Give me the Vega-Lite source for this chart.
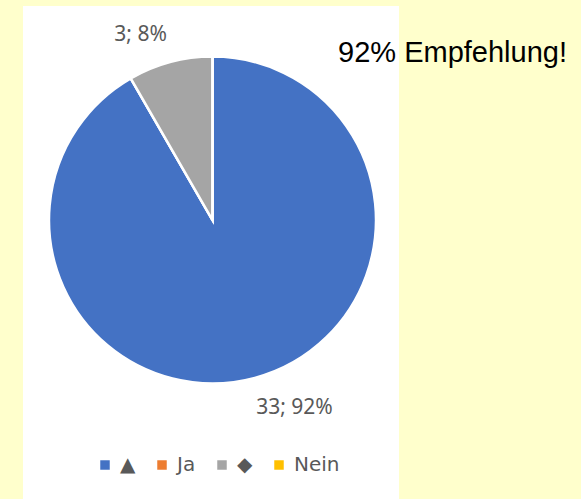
{
  "$schema": "https://vega.github.io/schema/vega-lite/v6.json",
  "width": 376,
  "height": 493,
  "autosize": {"type": "none"},
  "padding": {"left": 23, "top": 6, "right": 182, "bottom": 0},
  "background": "#FFFFCC",
  "view": {"fill": "white", "stroke": null},
  "title": {
    "text": "92% Empfehlung!",
    "orient": "top",
    "anchor": "end",
    "frame": "group",
    "offset": 0,
    "dx": 168,
    "dy": 85,
    "baseline": "alphabetic",
    "font": "Liberation Sans",
    "fontSize": 29,
    "fontWeight": "normal",
    "color": "#000000"
  },
  "data": {
    "values": [
      {"antwort": "▲", "anzahl": 33, "reihenfolge": 1, "beschriftung": "33; 92%"},
      {"antwort": "Ja", "anzahl": 0, "reihenfolge": 2, "beschriftung": ""},
      {"antwort": "◆", "anzahl": 3, "reihenfolge": 3, "beschriftung": "3; 8%"},
      {"antwort": "Nein", "anzahl": 0, "reihenfolge": 4, "beschriftung": ""}
    ]
  },
  "resolve": {"scale": {"theta": "independent"}},
  "layer": [
    {
      "mark": {
        "type": "arc",
        "outerRadius": 163.5,
        "stroke": "white",
        "strokeWidth": 2.5,
        "x": {"expr": "width/2 + 1.5"},
        "y": {"expr": "height/2 - 32.5"}
      },
      "encoding": {
        "theta": {"field": "anzahl", "type": "quantitative", "stack": true},
        "order": {"field": "reihenfolge", "type": "quantitative"},
        "color": {
          "field": "antwort",
          "type": "nominal",
          "sort": null,
          "scale": {
            "domain": ["▲", "Ja", "◆", "Nein"],
            "range": ["#4472C4", "#ED7D31", "#A5A5A5", "#FFC000"]
          },
          "legend": {
            "orient": "none",
            "direction": "horizontal",
            "legendX": 72,
            "legendY": 449,
            "title": null,
            "padding": 0,
            "symbolType": "square",
            "symbolSize": 90,
            "symbolStrokeWidth": 0,
            "labelFont": "DejaVu Sans",
            "labelFontSize": 20,
            "labelColor": "#595959",
            "labelOffset": 5,
            "columnPadding": 16
          }
        }
      }
    },
    {
      "mark": {
        "type": "text",
        "radius": 201.5,
        "font": "Noto Sans",
        "fontSize": 21,
        "color": "#595959",
        "align": "center",
        "baseline": "middle",
        "dx": 5,
        "dy": 1.5,
        "x": {"expr": "width/2 + 1.5"},
        "y": {"expr": "height/2 - 32.5"}
      },
      "encoding": {
        "theta": {
          "field": "anzahl",
          "type": "quantitative",
          "stack": true,
          "scale": {"range": [-0.13, 6.1532]}
        },
        "order": {"field": "reihenfolge", "type": "quantitative"},
        "text": {"field": "beschriftung", "type": "nominal"}
      }
    }
  ]
}
